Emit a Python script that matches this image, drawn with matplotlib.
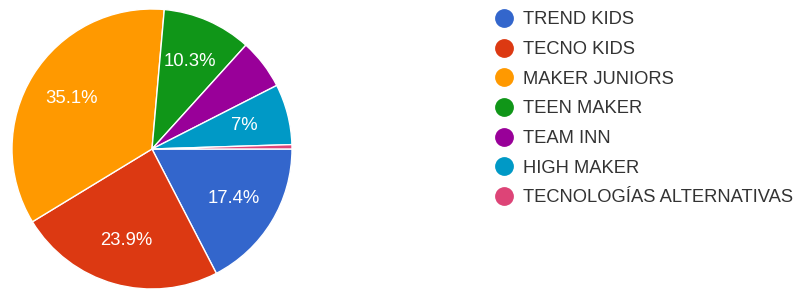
import matplotlib
matplotlib.use("Agg")
import matplotlib.pyplot as plt
from matplotlib.lines import Line2D

plt.rcParams['font.family'] = ['Liberation Sans', 'DejaVu Sans']

categories = ['TREND KIDS', 'TECNO KIDS', 'MAKER JUNIORS', 'TEEN MAKER',
              'TEAM INN', 'HIGH MAKER', 'TECNOLOGÍAS ALTERNATIVAS']
values = [17.4, 23.9, 35.1, 10.3, 5.8, 7.0, 0.5]
colors = ['#3366CC', '#DC3912', '#FF9900', '#109618', '#990099', '#0099C6', '#DD4477']


def pct_label(p):
    if p < 6.5:
        return ''
    return f'{round(p, 1):g}%'


fig = plt.figure(figsize=(7.98, 2.89), dpi=100)
ax = fig.add_axes([12 / 798, 0.0, 280 / 798, 280 / 289])
wedges, texts, autotexts = ax.pie(
    values, colors=colors, startangle=0, counterclock=False,
    autopct=pct_label, pctdistance=0.68,
    wedgeprops=dict(edgecolor='white', linewidth=1.0),
    textprops=dict(color='white', fontsize=13.3))
ax.set_xlim(-1, 1)
ax.set_ylim(-1, 1)
ax.set_aspect('equal')
ax.axis('off')

handles = [Line2D([], [], marker='o', linestyle='none', markersize=12.5,
                  markerfacecolor=c, markeredgecolor=c) for c in colors]
leg = fig.legend(handles, categories, loc='upper left',
                 bbox_to_anchor=(488 / 798, 1 - 4 / 289),
                 frameon=False, fontsize=13.2, labelspacing=0.69,
                 handlelength=0.9, handletextpad=0.6, borderaxespad=0)
for t in leg.get_texts():
    t.set_color('#333333')

fig.savefig('out.png', dpi=100)
